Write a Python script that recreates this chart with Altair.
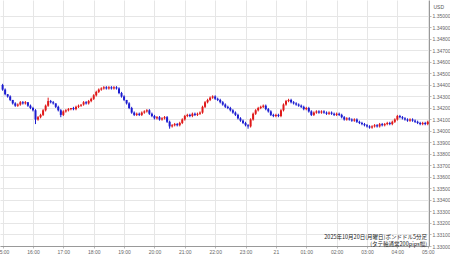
import altair as alt
import pandas as pd

# GBP/USD 5-minute candles, 2025-10-20 15:00 -> 2025-10-21 05:00 (one row per hour, 12 candles)
first_open = 1.3440
closes = [
    1.3436, 1.3432, 1.3430, 1.3427, 1.3424, 1.3422, 1.3423, 1.3425, 1.3424, 1.3425, 1.3422, 1.3420,
    1.3418, 1.3410, 1.3412, 1.3414, 1.3418, 1.3422, 1.3426, 1.3425, 1.3424, 1.3421, 1.3418, 1.3414,
    1.3417, 1.3418, 1.3419, 1.3420, 1.3419, 1.3421, 1.3422, 1.3423, 1.3425, 1.3424, 1.3426, 1.3428,
    1.3431, 1.3434, 1.3436, 1.3437, 1.3438, 1.3437, 1.3438, 1.3437, 1.3438, 1.3437, 1.3433, 1.3430,
    1.3427, 1.3424, 1.3420, 1.3416, 1.3414, 1.3415, 1.3414, 1.3416, 1.3417, 1.3418, 1.3415, 1.3413,
    1.3411, 1.3412, 1.3410, 1.3411, 1.3412, 1.3408, 1.3404, 1.3405, 1.3406, 1.3405, 1.3407, 1.3410,
    1.3413, 1.3414, 1.3413, 1.3415, 1.3414, 1.3415, 1.3416, 1.3421, 1.3425, 1.3427, 1.3429, 1.3430,
    1.3428, 1.3427, 1.3425, 1.3423, 1.3421, 1.3420, 1.3418, 1.3416, 1.3414, 1.3411, 1.3409, 1.3407,
    1.3405, 1.3404, 1.3410, 1.3415, 1.3418, 1.3420, 1.3421, 1.3422, 1.3419, 1.3417, 1.3414, 1.3413,
    1.3414, 1.3413, 1.3418, 1.3423, 1.3426, 1.3427, 1.3425, 1.3424, 1.3423, 1.3422, 1.3421, 1.3419,
    1.3420, 1.3417, 1.3414, 1.3416, 1.3417, 1.3416, 1.3417, 1.3416, 1.3415, 1.3416, 1.3415, 1.3414,
    1.3415, 1.3414, 1.3412, 1.3410, 1.3411, 1.3410, 1.3409, 1.3410, 1.3408, 1.3407, 1.3406, 1.3405,
    1.3404, 1.3403, 1.3404, 1.3405, 1.3404, 1.3406, 1.3405, 1.3406, 1.3407, 1.3406, 1.3408, 1.3410,
    1.3413, 1.3412, 1.3411, 1.3410, 1.3409, 1.3410, 1.3409, 1.3408, 1.3407, 1.3406, 1.3407, 1.3406,
    1.3408,
]
# wick extensions beyond the body, in pips
upper_wick = [
    1, 1, 0, 1, 0, 1, 1, 1, 1, 1, 0, 1,
    1, 1, 1, 1, 1, 1, 3, 1, 1, 0, 1, 1,
    1, 1, 1, 0, 1, 1, 1, 0, 1, 1, 1, 1,
    1, 1, 1, 1, 1, 1, 1, 1, 1, 1, 1, 1,
    1, 0, 1, 1, 1, 1, 1, 1, 1, 1, 1, 1,
    1, 1, 1, 1, 1, 1, 1, 1, 1, 1, 1, 1,
    1, 1, 1, 1, 1, 1, 1, 1, 1, 1, 1, 1,
    1, 1, 1, 1, 1, 1, 1, 1, 1, 1, 1, 1,
    1, 1, 1, 1, 1, 1, 1, 1, 1, 1, 1, 1,
    1, 1, 1, 1, 1, 1, 1, 1, 1, 1, 1, 1,
    1, 1, 1, 1, 1, 1, 1, 1, 1, 1, 1, 1,
    1, 1, 1, 1, 1, 1, 1, 1, 1, 1, 1, 1,
    1, 1, 1, 1, 1, 1, 1, 1, 1, 1, 1, 1,
    1, 1, 1, 1, 1, 1, 1, 1, 1, 1, 1, 1,
    1,
]
lower_wick = [
    1, 1, 1, 1, 1, 1, 1, 1, 1, 1, 1, 1,
    1, 4, 1, 1, 1, 1, 1, 1, 1, 1, 1, 2,
    1, 1, 1, 1, 1, 1, 1, 1, 1, 1, 1, 1,
    1, 1, 1, 1, 1, 1, 1, 1, 1, 1, 1, 1,
    1, 1, 1, 1, 1, 1, 1, 1, 1, 1, 1, 1,
    1, 1, 1, 1, 1, 1, 2, 1, 1, 1, 1, 1,
    1, 1, 1, 1, 1, 1, 1, 1, 1, 1, 1, 1,
    1, 1, 1, 1, 1, 1, 1, 1, 1, 1, 1, 1,
    1, 2, 1, 1, 1, 1, 1, 1, 1, 1, 1, 1,
    1, 1, 1, 1, 1, 1, 1, 1, 1, 1, 1, 1,
    1, 1, 1, 1, 1, 1, 1, 1, 1, 1, 1, 1,
    1, 1, 1, 1, 1, 1, 1, 1, 1, 1, 1, 1,
    1, 1, 1, 1, 1, 1, 1, 1, 1, 1, 1, 1,
    1, 1, 1, 1, 1, 1, 1, 1, 1, 1, 1, 1,
    1,
]
hour_labels = ["15:00", "16:00", "17:00", "18:00", "19:00", "20:00", "21:00", "22:00",
               "23:00", "21", "01:00", "02:00", "03:00", "04:00", "05:00"]
y_ticks = [1.330, 1.331, 1.332, 1.333, 1.334, 1.335, 1.336, 1.337, 1.338, 1.339, 1.340,
           1.341, 1.342, 1.343, 1.344, 1.345, 1.346, 1.347, 1.348, 1.349, 1.350]
caption_lines = ["2025年10月20日(月曜日)ポンドドル5分足", "(タテ軸通常200pips幅)"]

opens = [first_open] + closes[:-1]
rows = []
for i, (o, c, u, l) in enumerate(zip(opens, closes, upper_wick, lower_wick)):
    rows.append({
        "i": i, "open": o, "close": c,
        "high": max(o, c) + u / 10000, "low": min(o, c) - l / 10000,
        "dir": "up" if c > o else "down",
    })
df = pd.DataFrame(rows)

label_expr = "[" + ",".join(f"'{s}'" for s in hour_labels) + "][round(datum.value/12)]"

xscale = alt.Scale(domain=[-1.03, 168.5], nice=False, zero=False)
xaxis = alt.Axis(values=list(range(0, 169, 12)), labelExpr=label_expr, title=None,
                 labelFontSize=5, labelColor="#666", labelFont="Liberation Sans",
                 domainColor="#999", tickColor="#bbb", tickSize=2, labelPadding=1,
                 gridColor="#e6e6e6", labelFlush=False, labelOverlap=False,
                 labelBound=False)
yscale = alt.Scale(domain=[1.33, 1.35139], nice=False, zero=False)
yaxis = alt.Axis(orient="right", values=y_ticks, format=".5f", title="USD",
                 titleAngle=0, titleX=4, titleY=6, titleAlign="left",
                 titleBaseline="middle", titleFontSize=5, titleFontWeight="normal",
                 titleColor="#555", titleFont="Liberation Sans",
                 labelFontSize=5, labelColor="#666", labelFont="Liberation Sans",
                 domainColor="#999", tickColor="#bbb", tickSize=2, labelPadding=1,
                 gridColor="#e6e6e6", labelOverlap=False, labelBound=False)
color = alt.Color("dir:N", scale=alt.Scale(domain=["up", "down"], range=["#e01818", "#1c1cd0"]),
                  legend=None)

wicks = alt.Chart(df).mark_rule(strokeWidth=1).encode(
    x=alt.X("i:Q", scale=xscale, axis=xaxis),
    y=alt.Y("low:Q", scale=yscale, axis=yaxis),
    y2="high:Q",
    color=color,
)
bodies = alt.Chart(df).mark_rule(strokeWidth=2, strokeCap="butt").encode(
    x=alt.X("i:Q", scale=xscale, axis=xaxis),
    y=alt.Y("open:Q", scale=yscale, axis=yaxis),
    y2="close:Q",
    color=color,
)

cap_df = pd.DataFrame({"line": [0, 1], "text": caption_lines})
caption1 = alt.Chart(cap_df).transform_filter("datum.line == 0").mark_text(
    align="right", baseline="middle", fontSize=5.5, font="Noto Sans CJK JP", color="#222"
).encode(text="text:N", x=alt.value(427), y=alt.value(237))
caption2 = alt.Chart(cap_df).transform_filter("datum.line == 1").mark_text(
    align="right", baseline="middle", fontSize=5.5, font="Noto Sans CJK JP", color="#222"
).encode(text="text:N", x=alt.value(427), y=alt.value(244))

chart = alt.layer(wicks, bodies, caption1, caption2).properties(
    width=429, height=246,
    autosize=alt.AutoSizeParams(type="none"),
    padding={"left": 0, "top": 0, "right": 21, "bottom": 12},
    background="white",
).configure_view(stroke=None).configure_axis(labelOverlap=False)

chart.save("out.html", embed_options={"renderer": "svg", "actions": False})
